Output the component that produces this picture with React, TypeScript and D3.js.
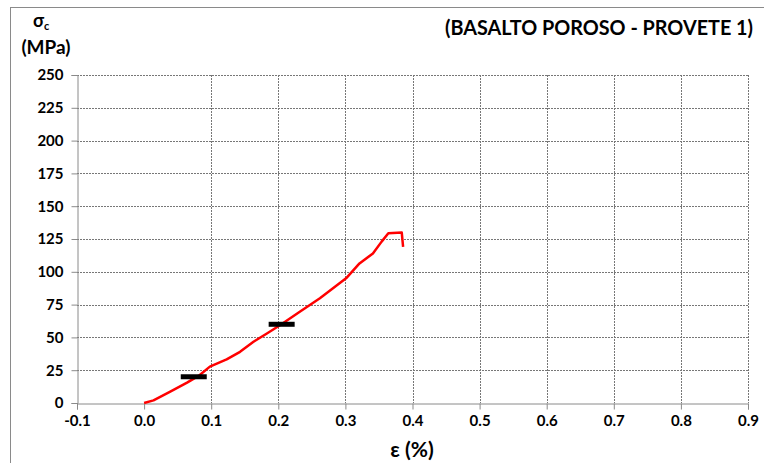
import React, { useEffect, useRef } from 'react';
import * as d3 from 'd3';

// strain (%) vs stress (MPa)
const strain = [0, 0.014, 0.039, 0.064, 0.083, 0.098, 0.123, 0.143, 0.163, 0.183, 0.203, 0.232, 0.262, 0.301, 0.321, 0.341, 0.354, 0.364, 0.384, 0.386];
const stress = [0, 2, 8.6, 15.5, 21.3, 27.7, 33.2, 39, 46.7, 53, 59.5, 69.6, 79.8, 95, 106.4, 114, 123, 129.4, 129.9, 119];

// modulus reference markers
const markStrain = [0.074, 0.205];
const markStress = [20, 60];

const xTicks = [-0.1, 0, 0.1, 0.2, 0.3, 0.4, 0.5, 0.6, 0.7, 0.8, 0.9];
const yTicks = [0, 25, 50, 75, 100, 125, 150, 175, 200, 225, 250];

const W = 764;
const H = 463;
const margin = { top: 75, right: 16, bottom: 60, left: 77 };
const FONT = 'Lato, "Open Sans", sans-serif';

const App: React.FC = () => {
  const svgRef = useRef<SVGSVGElement>(null);

  useEffect(() => {
    if (!svgRef.current) return;
    const svg = d3.select(svgRef.current);
    svg.selectAll('*').remove();

    const x = d3.scaleLinear().domain([-0.1, 0.9]).range([margin.left, W - margin.right]);
    const y = d3.scaleLinear().domain([0, 250]).range([H - margin.bottom, margin.top]);

    // outer frame
    svg.append('rect')
      .attr('x', 10.5).attr('y', 7.5)
      .attr('width', 800).attr('height', 500)
      .attr('fill', 'white').attr('stroke', '#8a8a8a').attr('stroke-width', 1);

    // grid
    svg.append('g')
      .selectAll('line')
      .data(yTicks.slice(1))
      .enter()
      .append('line')
      .attr('x1', margin.left).attr('x2', W - margin.right)
      .attr('y1', d => Math.round(y(d)) + 0.5).attr('y2', d => Math.round(y(d)) + 0.5)
      .attr('stroke', '#777').attr('stroke-dasharray', '2,1');

    svg.append('g')
      .selectAll('line')
      .data(xTicks.slice(2))
      .enter()
      .append('line')
      .attr('x1', d => Math.round(x(d)) + 0.5).attr('x2', d => Math.round(x(d)) + 0.5)
      .attr('y1', margin.top).attr('y2', y(0))
      .attr('stroke', '#777').attr('stroke-dasharray', '2,1');

    // y axis
    const yAxis = svg.append('g')
      .attr('transform', `translate(${margin.left + 0.5},0)`)
      .call(d3.axisLeft(y).tickValues(yTicks).tickSize(6).tickPadding(8).tickFormat(d3.format('d')));
    yAxis.selectAll('path,line').attr('stroke', '#8a8a8a');
    yAxis.selectAll('text')
      .style('font-family', FONT).style('font-size', '15px').style('font-weight', 'bold').attr('fill', '#000');

    // x axis
    const xAxis = svg.append('g')
      .attr('transform', `translate(0,${Math.round(y(0)) + 0.5})`)
      .call(d3.axisBottom(x).tickValues(xTicks).tickSize(6).tickPadding(6)
        .tickFormat(d => (d as number).toFixed(1)));
    xAxis.selectAll('path,line').attr('stroke', '#8a8a8a');
    xAxis.selectAll('text')
      .style('font-family', FONT).style('font-size', '15px').style('font-weight', 'bold').attr('fill', '#000');

    // curve
    const pts = strain.map((s, i) => [s, stress[i]] as [number, number]);
    svg.append('path')
      .datum(pts)
      .attr('fill', 'none')
      .attr('stroke', '#ff0000')
      .attr('stroke-width', 2.5)
      .attr('stroke-linejoin', 'round')
      .attr('d', d3.line<[number, number]>().x(d => x(d[0])).y(d => y(d[1])));

    // markers
    svg.append('g')
      .selectAll('rect')
      .data(markStrain.map((s, i) => [s, markStress[i]]))
      .enter()
      .append('rect')
      .attr('x', d => x(d[0]) - 13).attr('y', d => y(d[1]) - 2.5)
      .attr('width', 26).attr('height', 5)
      .attr('fill', '#000');

    // axis titles
    const yt = svg.append('text')
      .attr('x', 33).attr('y', 27)
      .style('font-family', FONT).style('font-size', '18px').style('font-weight', 'bold');
    yt.append('tspan').text('σ');
    yt.append('tspan').attr('dy', 3).style('font-size', '11px').text('c');

    svg.append('text')
      .attr('x', 46).attr('y', 54).attr('text-anchor', 'middle')
      .style('font-family', FONT).style('font-size', '19px').style('font-weight', 'bold')
      .text('(MPa)');

    svg.append('text')
      .attr('x', 412).attr('y', 457).attr('text-anchor', 'middle')
      .style('font-family', FONT).style('font-size', '21px').style('font-weight', 'bold')
      .text('ε (%)');

    svg.append('text')
      .attr('x', 445).attr('y', 35)
      .attr('textLength', 308).attr('lengthAdjust', 'spacingAndGlyphs')
      .style('font-family', FONT).style('font-size', '20px').style('font-weight', 'bold')
      .text('(BASALTO POROSO - PROVETE 1)');
  }, []);

  return (
    <svg ref={svgRef} width={W} height={H}
      style={{ position: 'absolute', left: 0, top: 0, background: '#fff' }} />
  );
};

export default App;
